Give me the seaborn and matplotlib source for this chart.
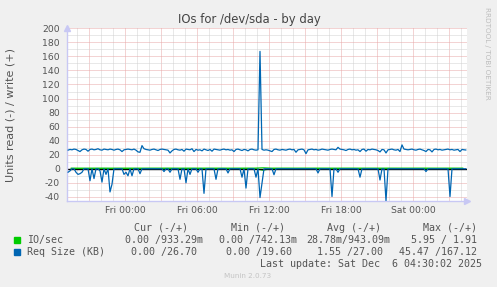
import numpy as np
import pandas as pd
import matplotlib
matplotlib.use("Agg")
import matplotlib.pyplot as plt
import seaborn as sns
from matplotlib.patches import Rectangle

# ---------------- data ----------------
# Req Size (KB), 10-minute samples, write (+)
req_write = [
    26.5, 27.5, 27.0, 28.0, 27.5, 26.0, 24.5, 27.0, 28.0, 27.5,
    25.0, 27.5, 28.0, 27.0, 27.5, 28.5, 27.0, 26.5, 28.0, 27.5,
    27.0, 28.0, 27.5, 26.5, 27.5, 28.0, 27.0, 24.5, 27.0, 27.5,
    28.0, 27.5, 27.0, 28.0, 26.5, 24.0, 23.5, 33.0, 28.5, 27.5,
    27.0, 26.5, 27.5, 28.0, 27.0, 26.0, 27.5, 28.0, 27.5, 27.0,
    26.5, 22.5, 25.5, 27.5, 28.0, 27.0, 26.5, 27.5, 25.0, 28.0,
    27.5, 27.0, 28.5, 24.5, 27.5, 26.5, 27.0, 25.5, 28.0, 27.0,
    26.0, 27.5, 25.0, 28.0, 27.5, 27.0, 26.5, 27.5, 28.0, 27.0,
    27.5, 26.5, 27.0, 24.5, 27.5, 28.0, 27.0, 26.0, 27.5, 27.0,
    25.5, 27.5, 28.0, 27.0, 26.5, 27.0, 167.12, 27.5, 26.5, 27.0,
    26.5, 25.5, 24.5, 27.5, 28.0, 27.0, 26.5, 27.5, 27.0, 26.5,
    27.5, 28.0, 27.0, 27.5, 23.5, 27.0, 27.5, 28.0, 27.0, 21.5,
    27.0, 27.5, 28.0, 27.0, 27.5, 26.5, 27.0, 28.0, 27.5, 27.0,
    26.5, 27.5, 28.0, 27.5, 27.0, 30.5, 28.0, 27.5, 27.0, 26.0,
    27.5, 28.0, 27.0, 27.5, 26.5, 27.0, 24.5, 27.5, 28.0, 25.0,
    27.5, 27.0, 28.0, 27.5, 27.0, 26.0, 24.0, 27.5, 27.0, 22.5,
    27.0, 27.5, 28.0, 27.0, 26.5, 27.5, 24.5, 34.0, 28.0, 27.5,
    27.0, 27.5, 28.0, 27.0, 26.5, 27.5, 28.0, 27.0, 26.0, 24.5,
    27.5, 27.0, 24.0, 27.5, 28.0, 27.0, 27.5, 26.5, 27.0, 27.5,
    28.0, 27.0, 27.5, 26.5, 27.0, 27.5, 24.5, 27.5, 27.0, 26.7,
]
# Req Size (KB), read (-), drawn below zero
req_read = [
    5, 3, 0, 0, 5, 8, 7, 5, 0, 0,
    0, 17, 0, 14, 0, 0, 3, 19, 0, 8,
    0, 33, 22, 0, 0, 0, 0, 0, 8, 5,
    10, 0, 10, 0, 0, 0, 7, 0, 0, 0,
    0, 0, 0, 0, 0, 0, 0, 0, 4, 0,
    0, 5, 0, 0, 0, 0, 15, 0, 0, 20,
    0, 8, 0, 0, 0, 5, 0, 0, 35, 0,
    0, 0, 0, 0, 15, 0, 0, 0, 0, 0,
    6, 0, 0, 0, 0, 0, 0, 12, 0, 27.5,
    0, 0, 0, 0, 12, 0, 41, 20, 0, 0,
    0, 0, 0, 8.5, 0, 0, 0, 0, 0, 0,
    0, 0, 0, 0, 0, 0, 0, 0, 0, 0,
    0, 0, 0, 0, 0, 6, 0, 0, 0, 0,
    0, 0, 39.5, 0, 0, 5, 0, 0, 0, 0,
    0, 0, 0, 0, 0, 0, 12, 0, 0, 0,
    0, 0, 0, 0, 0, 0, 16, 0, 0, 45.47,
    0, 0, 0, 0, 0, 0, 0, 0, 0, 0,
    0, 0, 0, 0, 0, 0, 0, 0, 0, 4,
    0, 0, 0, 0, 0, 0, 0, 0, 0, 0,
    0, 39.5, 0, 0, 0, 0, 0, 0, 0, 0,
]
# IO/sec, 40-minute samples
io_write = [
    0.95, 0.92, 0.90, 0.94, 0.96, 0.91, 0.93, 0.95, 0.92, 0.90,
    0.94, 0.93, 0.96, 0.92, 0.91, 0.95, 0.93, 0.94, 0.92, 0.95,
    0.90, 0.93, 0.96, 0.94, 1.40, 0.92, 0.93, 0.95, 0.91, 0.94,
    0.92, 0.96, 0.93, 0.90, 0.94, 0.95, 0.92, 0.93, 0.94, 0.91,
    0.95, 0.93, 0.92, 0.94, 0.96, 0.93, 0.91, 0.94, 0.93, 0.93,
]
io_read = [
    0.05, 0.02, 0.00, 0.04, 0.00, 0.01, 0.00, 0.03, 0.00, 0.00,
    0.00, 0.02, 0.00, 0.05, 0.00, 0.00, 0.00, 0.03, 0.00, 0.00,
    0.00, 0.00, 0.02, 0.00, 2.00, 0.00, 0.00, 0.00, 0.00, 0.00,
    0.00, 0.00, 0.03, 0.00, 0.00, 0.00, 0.00, 0.00, 0.00, 0.00,
    0.00, 0.00, 0.00, 0.00, 0.00, 0.00, 0.00, 0.00, 0.00, 0.00,
]

x_tick_hours = [0, 6, 12, 18, 24]
x_tick_labels = ["Fri 00:00", "Fri 06:00", "Fri 12:00", "Fri 18:00", "Sat 00:00"]
y_ticks = list(range(-40, 201, 20))

# time axis: hours relative to Fri 00:00, graph ends Sat 04:30
t_end = 28.5
t_start = t_end - 400 * 5 / 60.0
t_req = pd.Series(np.arange(len(req_write)) * 10 / 60.0 + t_start + 5 / 60.0)
t_io = pd.Series(np.arange(len(io_write)) * 40 / 60.0 + t_start + 20 / 60.0)

GREEN = "#00CC00"
BLUE = "#0066B3"
TXT = "#555555"

# ---------------- figure ----------------
sns.set_style("white")
plt.rcParams["font.family"] = ["DejaVu Sans"]

W, H = 497, 287
fig = plt.figure(figsize=(W / 100, H / 100), dpi=100, facecolor="#F0F0F0")
top_px, bot_px = 28.3, 200.7
ax = fig.add_axes([67 / W, 1 - bot_px / H, 400 / W, (bot_px - top_px) / H])
ax.set_facecolor("white")

ax.set_xlim(t_start, t_end)
ax.set_ylim(-45.47, 200)

# grid
MAJ = "#e8a8a8"
MIN = "#d2d2d2"
for h in range(-4, 29):
    ax.axvline(h, color=MAJ if h % 3 == 0 else MIN, lw=0.72,
               dashes=(1, 1), zorder=0.5)
for v in range(-40, 201, 10):
    if v == 0:
        continue
    ax.axhline(v, color=MAJ if v % 20 == 0 else MIN, lw=0.72,
               dashes=(1, 1), zorder=0.5)

df_io = pd.DataFrame({"t": t_io, "w": io_write, "r": [-v for v in io_read]})
df_req = pd.DataFrame({"t": t_req, "w": req_write, "r": [-v for v in req_read]})

sns.lineplot(data=df_io, x="t", y="r", ax=ax, color=GREEN, lw=0.8,
             estimator=None, zorder=2)
ax.axhline(0, color="black", lw=1.0, zorder=2.5)
sns.lineplot(data=df_io, x="t", y="w", ax=ax, color=GREEN, lw=0.8,
             estimator=None, zorder=3)
sns.lineplot(data=df_req, x="t", y="r", ax=ax, color=BLUE, lw=0.9,
             estimator=None, zorder=4)
sns.lineplot(data=df_req, x="t", y="w", ax=ax, color=BLUE, lw=0.9,
             estimator=None, zorder=4)

ax.set_xlabel("")
ax.set_ylabel("")
ax.set_xticks(x_tick_hours)
ax.set_xticklabels(x_tick_labels)
ax.set_yticks(y_ticks)
ax.set_yticklabels([str(v) for v in y_ticks])
ax.tick_params(axis="both", length=0, labelsize=6.7, colors=TXT)
ax.tick_params(axis="y", pad=5)
ax.tick_params(axis="x", pad=4)

AX = "#c8c8f4"
for s in ["top", "right"]:
    ax.spines[s].set_visible(False)
for s in ["left", "bottom"]:
    ax.spines[s].set_color(AX)
    ax.spines[s].set_linewidth(1.0)
# axis arrows
ax.plot([0], [1.0], transform=ax.transAxes, marker="^", ms=5, color=AX,
        clip_on=False, zorder=5)
ax.plot([1.0], [0], transform=ax.transAxes, marker=">", ms=5, color=AX,
        clip_on=False, zorder=5)


def px(x, y):
    return x / W, 1 - y / H


fig.text(*px(249.5, 19.5), "IOs for /dev/sda - by day", ha="center",
         va="center", fontsize=8.4, color="#444444")
fig.text(*px(11, 115), "Units read (-) / write (+)", rotation=90,
         ha="center", va="center", fontsize=8, color=TXT)
fig.text(*px(487, 53), "RRDTOOL / TOBI OETIKER", rotation=270, ha="center",
         va="center", fontsize=5.2, color="#bdbdbd")
fig.text(*px(248, 276.5), "Munin 2.0.73", ha="center", va="center",
         fontsize=5.2, color="#c4c4c4")

MONO = dict(family="DejaVu Sans Mono", fontsize=7.2, color=TXT, va="center")
for txt, x in [("Cur (-/+)", 134), ("Min (-/+)", 231),
               ("Avg (-/+)", 327), ("Max (-/+)", 423)]:
    fig.text(*px(x, 228), txt, ha="left", **MONO)

rows = [
    (240, GREEN, "IO/sec",
     [("0.00 /933.29m", 203), ("0.00 /742.13m", 297),
      ("28.78m/943.09m", 390), ("5.95 / 1.91", 477)]),
    (252, BLUE, "Req Size (KB)",
     [("0.00 /26.70", 197), ("0.00 /19.60", 292),
      ("1.55 /27.00", 383), ("45.47 /167.12", 477)]),
]
for y, col, label, vals in rows:
    fig.add_artist(Rectangle(px(14, y + 3), 6 / W, 6 / H, color=col,
                             transform=fig.transFigure))
    fig.text(*px(27, y), label, ha="left", **MONO)
    for txt, x in vals:
        fig.text(*px(x, y), txt, ha="right", **MONO)

fig.text(*px(482, 264), "Last update: Sat Dec  6 04:30:02 2025", ha="right",
         **MONO)

fig.savefig("out.png", dpi=100, facecolor=fig.get_facecolor())
